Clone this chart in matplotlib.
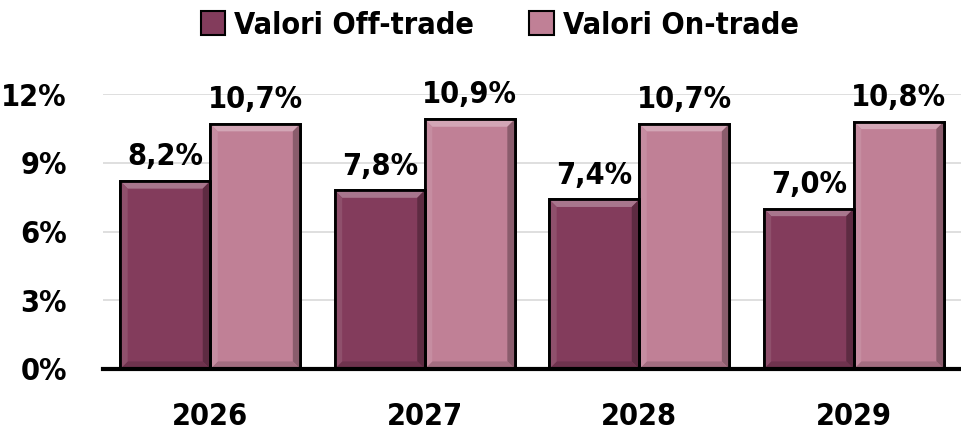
import matplotlib
matplotlib.use("Agg")
import matplotlib.pyplot as plt
from matplotlib import font_manager
from matplotlib.patches import Polygon, Patch
import numpy as np

# dati
anni = ["2026", "2027", "2028", "2029"]
off_trade = [8.2, 7.8, 7.4, 7.0]
on_trade = [10.7, 10.9, 10.7, 10.8]
serie_nomi = ["Valori Off-trade", "Valori On-trade"]
y_ticks = [0, 3, 6, 9, 12]

col_off = "#833C5C"
col_on = "#C08096"

# carattere stretto se disponibile
names = {f.name for f in font_manager.fontManager.ttflist}
narrow = [f for f in font_manager.fontManager.ttflist
          if f.stretch in ("condensed", "semi-condensed", "extra-condensed")]
if "Liberation Sans Narrow" in names:
    font = "Liberation Sans Narrow"
elif narrow:
    font = narrow[0].name
    plt.rcParams["font.stretch"] = "condensed"
else:
    font = "Liberation Sans"
plt.rcParams["font.family"] = [font, "DejaVu Sans"]
plt.rcParams["font.weight"] = "bold"
fs = 20 if font == "Liberation Sans" else 22

fig = plt.figure(figsize=(9.61, 4.33), dpi=100)
ax = fig.add_axes([103 / 961, 64 / 433, 858 / 961, 275 / 433])

x = np.arange(len(anni))
w = 0.42


def bevel(ax, bar, color):
    # effetto rilievo: bordo superiore chiaro, lato destro scuro
    x0, y0 = bar.get_x(), bar.get_y()
    x1, y1 = x0 + bar.get_width(), y0 + bar.get_height()
    dx, dy = 0.035, 0.33
    rgb = np.array(matplotlib.colors.to_rgb(color))
    light = rgb + (1 - rgb) * 0.3
    dark = rgb * 0.72
    ax.add_patch(Polygon([[x0, y1], [x1, y1], [x1 - dx, y1 - dy], [x0 + dx, y1 - dy]],
                         closed=True, fc=light, ec="none", zorder=3))
    ax.add_patch(Polygon([[x1, y1], [x1, y0], [x1 - dx, y0 + dy], [x1 - dx, y1 - dy]],
                         closed=True, fc=dark, ec="none", zorder=3))
    ax.add_patch(Polygon([[x0, y0], [x1, y0], [x1 - dx, y0 + dy], [x0 + dx, y0 + dy]],
                         closed=True, fc=rgb * 0.85, ec="none", zorder=3))
    ax.add_patch(Polygon([[x0, y1], [x0, y0], [x0 + dx, y0 + dy], [x0 + dx, y1 - dy]],
                         closed=True, fc=rgb + (1 - rgb) * 0.1, ec="none", zorder=3))


b1 = ax.bar(x - w / 2, off_trade, w, color=col_off, edgecolor="black", linewidth=2, zorder=2)
b2 = ax.bar(x + w / 2, on_trade, w, color=col_on, edgecolor="black", linewidth=2, zorder=2)
for bars, c in [(b1, col_off), (b2, col_on)]:
    for b in bars:
        bevel(ax, b, c)
        ax.bar(b.get_x() + b.get_width() / 2, b.get_height(), b.get_width(),
               fill=False, edgecolor="black", linewidth=2, zorder=4)

for bars, vals in [(b1, off_trade), (b2, on_trade)]:
    for b, v in zip(bars, vals):
        ax.annotate(f"{v:.1f}%".replace(".", ","), (b.get_x() + b.get_width() / 2, v),
                    xytext=(0, 7), textcoords="offset points", ha="center", va="bottom",
                    fontsize=fs, fontweight="bold")

ax.set_xlim(-0.5, 3.5)
ax.set_ylim(0, 12)
ax.set_yticks(y_ticks)
ax.set_yticklabels([f"{t}%" for t in y_ticks], fontsize=fs, fontweight="bold")
ax.set_xticks(x)
ax.set_xticklabels(anni, fontsize=fs, fontweight="bold")
ax.tick_params(axis="both", length=0)
ax.tick_params(axis="y", pad=26)
ax.tick_params(axis="x", pad=24)
ax.yaxis.grid(True, color="#D9D9D9", linewidth=1.2, zorder=0)
ax.set_axisbelow(True)
for s in ["top", "right", "left"]:
    ax.spines[s].set_visible(False)
ax.spines["bottom"].set_linewidth(3)
ax.spines["bottom"].set_zorder(5)

handles = [Patch(facecolor=col_off, edgecolor="black", linewidth=1.5),
           Patch(facecolor=col_on, edgecolor="black", linewidth=1.5)]
fig.legend(handles, serie_nomi, loc="center", bbox_to_anchor=(0.52, 1 - 25 / 433), ncol=2,
           frameon=False, prop={"size": fs, "weight": "bold"}, handlelength=0.8,
           handleheight=0.8, handletextpad=0.3, columnspacing=1.8)

fig.savefig("out.png", dpi=100)
